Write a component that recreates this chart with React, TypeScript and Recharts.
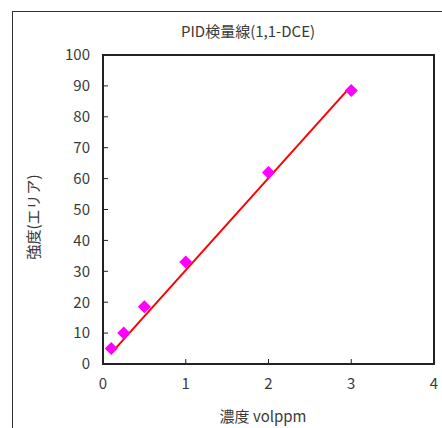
import {
  ScatterChart,
  Scatter,
  XAxis,
  YAxis,
  ReferenceArea,
} from 'recharts';

const concentrations = [0.1, 0.25, 0.5, 1, 2, 3];
const intensities = [5, 10, 18.5, 33, 62, 88.5];
const trendX = [0.1, 3];
const trendY = [3.5, 90];
const xTicks = [0, 1, 2, 3, 4];
const yTicks = [0, 10, 20, 30, 40, 50, 60, 70, 80, 90, 100];

const points = concentrations.map((x, i) => ({ x, y: intensities[i] }));
const trend = trendX.map((x, i) => ({ x, y: trendY[i] }));

const FONT = '"Noto Sans CJK JP", "Noto Sans", sans-serif';
const TEXT = '#3a3a3a';

const Diamond = (props: { cx?: number; cy?: number }) => {
  const { cx = 0, cy = 0 } = props;
  const r = 6.5;
  return (
    <polygon
      points={`${cx},${cy - r} ${cx + r},${cy} ${cx},${cy + r} ${cx - r},${cy}`}
      fill="#ff00ff"
    />
  );
};

export default function App() {
  const tickStyle = { fontSize: 15, fill: TEXT, fontFamily: FONT };
  return (
    <div
      style={{
        position: 'absolute',
        left: 0,
        top: 0,
        width: 442,
        height: 428,
        overflow: 'hidden',
        background: '#fff',
        fontFamily: FONT,
      }}
    >
      <div
        style={{
          position: 'absolute',
          left: 12,
          top: 11,
          width: 460,
          height: 460,
          borderLeft: '1.5px solid #333',
          borderTop: '1.5px solid #333',
        }}
      />
      <ScatterChart
        width={442}
        height={428}
        margin={{ top: 55, right: 8, bottom: 0, left: 0 }}
      >
        <XAxis
          type="number"
          dataKey="x"
          domain={[0, 4]}
          ticks={xTicks}
          height={64}
          tickSize={-5}
          tickMargin={19}
          tick={tickStyle}
          axisLine={{ stroke: '#222', strokeWidth: 2 }}
          tickLine={{ stroke: '#222' }}
          allowDataOverflow
        />
        <YAxis
          type="number"
          dataKey="y"
          domain={[0, 100]}
          ticks={yTicks}
          width={103}
          tickSize={-5}
          tickMargin={18}
          tick={tickStyle}
          axisLine={{ stroke: '#222', strokeWidth: 2 }}
          tickLine={{ stroke: '#222' }}
          allowDataOverflow
        />
        <ReferenceArea
          x1={0}
          x2={4}
          y1={0}
          y2={100}
          fill="none"
          fillOpacity={0}
          stroke="#222"
          strokeWidth={2}
        />
        <Scatter
          data={trend}
          line={{ stroke: '#ff0000', strokeWidth: 2 }}
          shape={() => <g />}
          isAnimationActive={false}
        />
        <Scatter data={points} shape={<Diamond />} isAnimationActive={false} />
      </ScatterChart>
      <div
        style={{
          position: 'absolute',
          left: 148,
          width: 200,
          top: 21,
          textAlign: 'center',
          fontSize: 15,
          lineHeight: '20px',
          color: TEXT,
        }}
      >
        PID検量線(1,1-DCE)
      </div>
      <div
        style={{
          position: 'absolute',
          left: 163,
          width: 200,
          top: 406,
          textAlign: 'center',
          fontSize: 15,
          lineHeight: '20px',
          color: TEXT,
        }}
      >
        濃度 volppm
      </div>
      <div
        style={{
          position: 'absolute',
          left: 33 - 100,
          width: 200,
          top: 217 - 10,
          textAlign: 'center',
          fontSize: 15,
          lineHeight: '20px',
          color: TEXT,
          transform: 'rotate(-90deg)',
        }}
      >
        強度(エリア)
      </div>
    </div>
  );
}
